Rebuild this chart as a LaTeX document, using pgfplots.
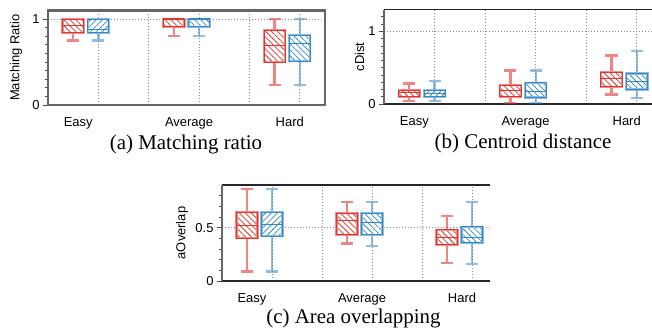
\documentclass[border=0pt]{standalone}
\usepackage{fontspec}
\setmainfont{Liberation Sans}
\newfontfamily\capfont{Liberation Serif}
\usepackage{pgfplots}
\pgfplotsset{compat=1.18}
\usepgfplotslibrary{statistics}
\usetikzlibrary{patterns.meta}
\definecolor{rd}{RGB}{228,52,46}
\definecolor{bl}{RGB}{52,136,200}
\definecolor{rdl}{RGB}{242,140,135}
\definecolor{bll}{RGB}{140,188,225}
\pgfplotsset{
  base/.style={
    scale only axis, xmin=0, ymin=0,
    axis x line*=box,
    x axis line style={black!85, line width=1.5bp},
    y axis line style={black!60, line width=2.4bp},
    ytick pos=left, tick align=outside,
    xtick={0.5,1,1.5,2,2.5}, xticklabels={}, xmajorgrids, ymajorgrids,
    xtick style={draw=none},
    extra x ticks={0.3,1.4,2.4}, extra x tick labels={Easy,Average,Hard},
    extra x tick style={grid=none, xticklabel style={yshift=-4bp}},
    major tick length=5bp, minor tick length=3bp,
    ytick style={black!70, line width=0.8bp},
    grid style={black!45, line width=0.8bp, dash pattern=on 0.8bp off 2.2bp},
    tick label style={font=\fontsize{13}{15}\selectfont},
    /pgf/number format/assume math mode=true,
  },
  common/.style={mark=none, solid, boxplot/draw direction=y,
    boxplot/box extend=0.21, boxplot/whisker extend=0.12},
  rbox/.style={common, draw=rdl,
    boxplot/every box/.style={preaction={fill=white}, draw=rdl, double=rd,
      double distance=0.9bp, line width=0.6bp,
      pattern={Lines[angle=-45,distance=4.2bp,line width=0.75bp]}, pattern color=rd},
    boxplot/every whisker/.style={draw=rd, draw opacity=0.6, line width=2.4bp},
    boxplot/every median/.style={draw=rd, line width=1bp}},
  bbox/.style={common, draw=bll,
    boxplot/every box/.style={preaction={fill=white}, draw=bll, double=bl,
      double distance=0.9bp, line width=0.6bp,
      pattern={Lines[angle=#1,distance=4.2bp,line width=0.75bp]}, pattern color=bl},
    boxplot/every whisker/.style={draw=bl, draw opacity=0.55, line width=2.4bp},
    boxplot/every median/.style={draw=bl, line width=1bp}},
}
\begin{document}
\begin{tikzpicture}
\path[use as bounding box] (0,0) rectangle (652bp,330bp);
% (a)
\begin{axis}[base, at={(48bp,225bp)}, anchor=south west,
  width=277bp, height=94.6bp, xmax=2.75, ymax=1.1,
  axis y line*=box,
  ytick={0,1}, minor ytick={0.1,0.2,0.3,0.4,0.5,0.6,0.7,0.8,0.9},
  ylabel={Matching Ratio},
  every axis y label/.style={at={(axis description cs:-0.115,0.5)}, rotate=90, anchor=center, font=\fontsize{13}{15}\selectfont}]
\addplot[rbox, boxplot prepared={draw position=0.25, lower whisker=0.75, lower quartile=0.84, median=0.93, upper quartile=1.0, upper whisker=1.0}] coordinates {};
\addplot[bbox=45, boxplot prepared={draw position=0.5, lower whisker=0.75, lower quartile=0.84, median=0.88, upper quartile=1.0, upper whisker=1.0}] coordinates {};
\addplot[rbox, boxplot prepared={draw position=1.25, lower whisker=0.80, lower quartile=0.91, median=1.0, upper quartile=1.0, upper whisker=1.0}] coordinates {};
\addplot[bbox=-45, boxplot prepared={draw position=1.5, lower whisker=0.80, lower quartile=0.91, median=1.0, upper quartile=1.0, upper whisker=1.0}] coordinates {};
\addplot[rbox, boxplot prepared={draw position=2.25, lower whisker=0.23, lower quartile=0.50, median=0.69, upper quartile=0.87, upper whisker=1.0}] coordinates {};
\addplot[bbox=-45, boxplot prepared={draw position=2.5, lower whisker=0.23, lower quartile=0.51, median=0.71, upper quartile=0.81, upper whisker=1.0}] coordinates {};
\end{axis}
% (b)
\begin{axis}[base, at={(384bp,226bp)}, anchor=south west,
  width=268bp, height=94.4bp, xmax=2.65, ymax=1.3,
  axis y line*=left,
  ytick={0,1}, minor ytick={0.1,0.2,0.3,0.4,0.5,0.6,0.7,0.8,0.9,1.1,1.2},
  ylabel={cDist},
  every axis y label/.style={at={(axis description cs:-0.091,0.5)}, rotate=90, anchor=center, font=\fontsize{13}{15}\selectfont}]
\addplot[rbox, boxplot prepared={draw position=0.25, lower whisker=0.04, lower quartile=0.10, median=0.157, upper quartile=0.19, upper whisker=0.285}] coordinates {};
\addplot[bbox=45, boxplot prepared={draw position=0.5, lower whisker=0.04, lower quartile=0.10, median=0.15, upper quartile=0.19, upper whisker=0.32}] coordinates {};
\addplot[rbox, boxplot prepared={draw position=1.25, lower whisker=0.01, lower quartile=0.10, median=0.18, upper quartile=0.26, upper whisker=0.46}] coordinates {};
\addplot[bbox=-45, boxplot prepared={draw position=1.5, lower whisker=0.01, lower quartile=0.09, median=0.17, upper quartile=0.29, upper whisker=0.46}] coordinates {};
\addplot[rbox, boxplot prepared={draw position=2.25, lower whisker=0.13, lower quartile=0.24, median=0.35, upper quartile=0.44, upper whisker=0.67}] coordinates {};
\addplot[bbox=-45, boxplot prepared={draw position=2.5, lower whisker=0.08, lower quartile=0.20, median=0.31, upper quartile=0.42, upper whisker=0.73}] coordinates {};
\end{axis}
% (c)
\begin{axis}[base, at={(222bp,49bp)}, anchor=south west,
  width=268bp, height=96bp, xmax=2.68, ymax=0.9,
  axis y line*=left,
  ytick={0,0.5}, minor ytick={0.1,0.2,0.3,0.4,0.6,0.7,0.8},
  ylabel={aOverlap},
  every axis y label/.style={at={(axis description cs:-0.149,0.5)}, rotate=90, anchor=center, font=\fontsize{13}{15}\selectfont}]
\addplot[rbox, boxplot prepared={draw position=0.25, lower whisker=0.09, lower quartile=0.40, median=0.52, upper quartile=0.645, upper whisker=0.86}] coordinates {};
\addplot[bbox=45, boxplot prepared={draw position=0.5, lower whisker=0.09, lower quartile=0.42, median=0.53, upper quartile=0.645, upper whisker=0.86}] coordinates {};
\addplot[rbox, boxplot prepared={draw position=1.25, lower whisker=0.35, lower quartile=0.435, median=0.565, upper quartile=0.635, upper whisker=0.74}] coordinates {};
\addplot[bbox=-45, boxplot prepared={draw position=1.5, lower whisker=0.33, lower quartile=0.435, median=0.55, upper quartile=0.635, upper whisker=0.74}] coordinates {};
\addplot[rbox, boxplot prepared={draw position=2.25, lower whisker=0.17, lower quartile=0.34, median=0.41, upper quartile=0.48, upper whisker=0.61}] coordinates {};
\addplot[bbox=-45, boxplot prepared={draw position=2.5, lower whisker=0.16, lower quartile=0.36, median=0.41, upper quartile=0.51, upper whisker=0.74}] coordinates {};
\end{axis}
\node[anchor=base, font=\capfont\fontsize{21}{24}\selectfont] at (186bp,180bp) {(a) Matching ratio};
\node[anchor=base, font=\capfont\fontsize{21}{24}\selectfont] at (523bp,181bp) {(b) Centroid distance};
\node[anchor=base, font=\capfont\fontsize{21}{24}\selectfont] at (353.5bp,7bp) {(c) Area overlapping};
\end{tikzpicture}
\end{document}
